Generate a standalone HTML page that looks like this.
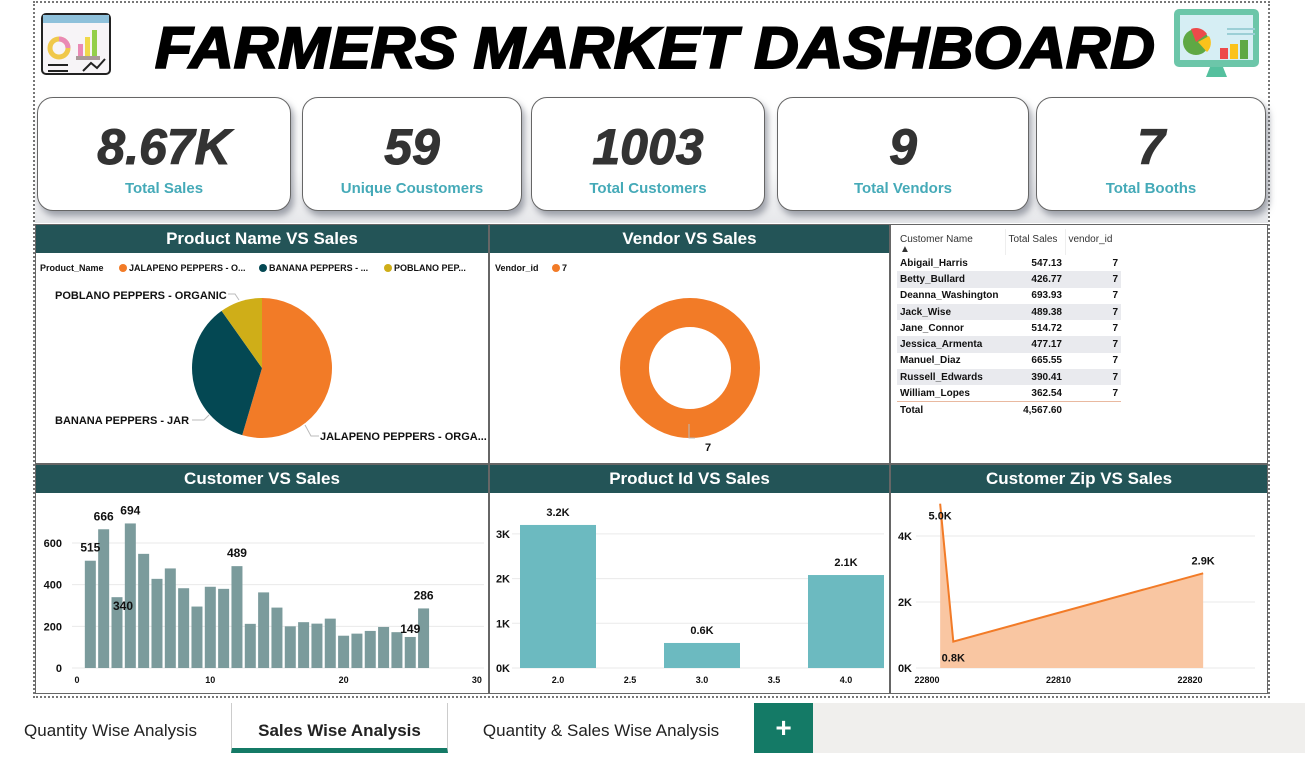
<!DOCTYPE html>
<html><head><meta charset="utf-8">
<style>
*{box-sizing:border-box;margin:0;padding:0}
body{width:1305px;height:753px;overflow:hidden;background:#fff;font-family:"Liberation Sans",sans-serif;position:relative}
.abs{position:absolute}
.frame{left:33px;top:1px;width:1237px;height:697px;border:2px dotted #777}
.title{left:155px;top:14px;white-space:nowrap;font-weight:bold;font-style:italic;font-size:58px;color:#000;line-height:70px;-webkit-text-stroke:2px #000;transform-origin:0 0}
.band{left:35px;top:90px;width:1233px;height:133px;background:linear-gradient(#fff,#fff 60%,#e6e7ea)}
.card{top:97px;height:114px;background:#fff;border:1px solid #666;border-radius:16px;box-shadow:3px 5px 7px rgba(90,95,110,.55);text-align:center}
.card .v{font-size:50px;font-weight:bold;font-style:italic;color:#333;margin-top:22px;line-height:54px;-webkit-text-stroke:1px #333}
.card .l{font-size:15px;font-weight:bold;color:#45aab8;margin-top:6px}
.panel{background:#fff;border:1px solid #666}
.hdr{background:#235457;color:#fff;font-weight:bold;font-size:17px;text-align:center;height:28px;line-height:28px}
table{border-collapse:collapse;font-size:10px}
td,th{padding:0 3px;height:16.3px;white-space:nowrap}
th{font-weight:normal;color:#333;text-align:left;vertical-align:top;height:24px;padding-top:6px;line-height:10px}
td{font-weight:bold;color:#111}
.tab{top:703px;height:50px;font-size:17px;color:#222;line-height:56px;text-align:center}
</style></head><body>
<div class="abs band"></div>
<div class="abs frame"></div>
<svg class="abs" style="left:41px;top:13px" width="70" height="62">
<rect x="1" y="1" width="68" height="60" rx="4" fill="#f7f4f7" stroke="#222" stroke-width="2"/>
<rect x="2" y="2" width="66" height="8" fill="#8fc1db"/>
<circle cx="18" cy="35" r="9" fill="none" stroke="#f0c84b" stroke-width="5"/>
<path d="M18 26 A9 9 0 0 1 27 35" fill="none" stroke="#ea89b5" stroke-width="5"/>
<rect x="37" y="31" width="5" height="12" fill="#ea89b5"/><rect x="44" y="24" width="5" height="19" fill="#f0d84b"/><rect x="51" y="17" width="5" height="26" fill="#94cf4a"/>
<rect x="35" y="43" width="24" height="4" fill="#a99"/>
<path d="M7 52h20M7 58h20M42 58l8-8 6 5 8-9" stroke="#222" stroke-width="2" fill="none"/>
</svg>
<div id="title" class="abs title">FARMERS MARKET DASHBOARD</div>
<svg class="abs" style="left:1174px;top:9px" width="86" height="69">
<rect x="0" y="0" width="85" height="58" rx="5" fill="#6cc6a9"/>
<rect x="6" y="6" width="73" height="45" fill="#d6eef4"/>
<circle cx="22" cy="33" r="13" fill="#5fa844"/><path d="M22 33 L17 20 A13 13 0 0 1 33 25Z" fill="#ed4a4a"/><path d="M24 33 L35 27 A13 13 0 0 1 33 43Z" fill="#fbc21b"/>
<rect x="46" y="39" width="8" height="11" fill="#ed4a4a"/><rect x="56" y="35" width="8" height="15" fill="#fbc21b"/><rect x="66" y="31" width="8" height="19" fill="#5fa844"/>
<path d="M53 20h28M53 25h28" stroke="#9ccfd6" stroke-width="2"/>
<path d="M36 58h13l4 10H32Z" fill="#55c09e"/>
</svg>

<div class="abs card" style="left:37px;width:254px"><div class="v">8.67K</div><div class="l">Total Sales</div></div>
<div class="abs card" style="left:302px;width:220px"><div class="v">59</div><div class="l">Unique Coustomers</div></div>
<div class="abs card" style="left:531px;width:234px"><div class="v">1003</div><div class="l">Total Customers</div></div>
<div class="abs card" style="left:777px;width:252px"><div class="v">9</div><div class="l">Total Vendors</div></div>
<div class="abs card" style="left:1036px;width:230px"><div class="v">7</div><div class="l">Total Booths</div></div>

<div class="abs panel" style="left:35px;top:224px;width:454px;height:240px"><div class="hdr">Product Name VS Sales</div></div>
<div class="abs panel" style="left:489px;top:224px;width:401px;height:240px"><div class="hdr">Vendor VS Sales</div></div>
<div class="abs panel" style="left:890px;top:224px;width:378px;height:240px">
<table style="margin:4px 0 0 6px">
<tr><th style="width:108px">Customer Name<br>▲</th><th style="width:60px;border-left:1px solid #eee">Total Sales</th><th style="border-left:1px solid #eee;width:56px">vendor_id</th></tr>
<tbody id="tb"></tbody>
<tr style="border-top:1px solid #e9b9a0"><td>Total</td><td style="text-align:right">4,567.60</td><td></td></tr>
</table></div>
<div class="abs panel" style="left:35px;top:464px;width:454px;height:230px"><div class="hdr">Customer VS Sales</div></div>
<div class="abs panel" style="left:489px;top:464px;width:401px;height:230px"><div class="hdr">Product Id VS Sales</div></div>
<div class="abs panel" style="left:890px;top:464px;width:378px;height:230px"><div class="hdr">Customer Zip VS Sales</div></div>

<svg id="ch" class="abs" style="left:0;top:0" width="1305" height="700" font-family="Liberation Sans, sans-serif"></svg>

<div class="abs" style="left:0;top:703px;width:1305px;height:50px;background:#fff"></div>
<div class="abs tab" style="left:0;width:221px">Quantity Wise Analysis</div>
<div class="abs tab" style="left:231px;width:217px;border-left:1px solid #ccc;border-right:1px solid #ccc;font-weight:bold;border-bottom:5px solid #147a66;line-height:56px">Sales Wise Analysis</div>
<div class="abs tab" style="left:448px;width:306px">Quantity &amp; Sales Wise Analysis</div>
<div class="abs tab" style="left:754px;width:59px;background:#147a66;color:#fff;font-size:28px;font-weight:bold;line-height:50px">+</div>
<div class="abs" style="left:813px;top:703px;width:492px;height:50px;background:#f0efed"></div>

<script>
const custNames=["Abigail_Harris","Betty_Bullard","Deanna_Washington","Jack_Wise","Jane_Connor","Jessica_Armenta","Manuel_Diaz","Russell_Edwards","William_Lopes"];
const custSales=[547.13,426.77,693.93,489.38,514.72,477.17,665.55,390.41,362.54];
const pieNames=["JALAPENO PEPPERS - ORGA...","BANANA PEPPERS - JAR","POBLANO PEPPERS - ORGANIC"];
const pieValues=[3230,2110,580];
const pieColors=["#f27b27","#044853","#cfae18"];
const vendorValues=[4567.6];
const barValues=[515,666,340,694,548,428,478,383,295,390,380,489,212,363,290,200,220,213,237,155,165,178,197,172,149,286];
const barLabelIdx=[0,1,2,3,11,24,25];
const barTicks=[0,10,20,30];
const barYTicks=[0,200,400,600];
const prodIds=[2,3,4];
const prodValues=[3200,560,2080];
const prodXTicks=["2.0","2.5","3.0","3.5","4.0"];
const prodYTicks=[0,1000,2000,3000];
const zips=[22801,22802,22821];
const zipValues=[4980,800,2870];
const zipXTicks=[22800,22810,22820];
const zipYTicks=[0,2000,4000];

const T=document.getElementById('title');
T.style.transform='scaleX('+(1000/T.offsetWidth)+')';

const tb=document.getElementById('tb');
custNames.forEach((n,i)=>{const tr=document.createElement('tr');


if(i%2)tr.style.background='#e9eaee';
tr.innerHTML='<td>'+n+'</td><td style="text-align:right">'+custSales[i].toFixed(2)+'</td><td style="text-align:right">7</td>';tb.appendChild(tr);});

const S=document.getElementById('ch');const NS='http://www.w3.org/2000/svg';
function el(t,a,txt){const e=document.createElementNS(NS,t);for(const k in a)e.setAttribute(k,a[k]);if(txt!==undefined)e.textContent=txt;S.appendChild(e);return e;}
function tx(x,y,s,o){return el('text',Object.assign({x:x,y:y,'font-size':11,'font-weight':'bold',fill:'#111'},o||{}),s);}

tx(40,271,'Product_Name',{'font-size':9});
const legX=[119,259,384];const legT=["JALAPENO PEPPERS - O...","BANANA PEPPERS - ...","POBLANO PEP..."];
legT.forEach((t,i)=>{const c=el('circle',{cx:legX[i]+4,cy:268,r:4,fill:pieColors[i]});


tx(legX[i]+10,271,t,{'font-size':9});});
const pcx=262,pcy=368,pr=70;const tot=pieValues.reduce((a,b)=>a+b,0);let ang=0;
pieValues.forEach((v,i)=>{const a0=ang,a1=ang+v/tot*2*Math.PI;ang=a1;
const p=(a)=>[pcx+pr*Math.sin(a),pcy-pr*Math.cos(a)];const[x0,y0]=p(a0),[x1,y1]=p(a1);
const s=el('path',{d:`M${pcx} ${pcy}L${x0} ${y0}A${pr} ${pr} 0 ${a1-a0>Math.PI?1:0} 1 ${x1} ${y1}Z`,fill:pieColors[i]});

});
el('path',{d:'M305 425l6 11h8M192 420h12l5-5M228 294h7l4 6',stroke:'#bbb',fill:'none'});
tx(320,440,pieNames[0]);
tx(55,424,pieNames[1]);tx(55,299,pieNames[2]);

tx(495,271,'Vendor_id',{'font-size':9});
el('circle',{cx:556,cy:268,r:4,fill:'#f27b27'});tx(562,271,'7',{'font-size':9});
const dr=55.5;const dn=el('circle',{cx:690,cy:368,r:dr,fill:'none',stroke:'#f27b27','stroke-width':29});


el('path',{d:'M689 424v14h6',stroke:'#bbb',fill:'none'});tx(705,451,'7');

const bx=v=>77+v*13.33, by=v=>668-v*0.2083;
barYTicks.forEach(t=>{el('line',{x1:72,x2:484,y1:by(t),y2:by(t),stroke:'#eaeaea'});tx(62,by(t)+4,t,{'text-anchor':'end'});});
barTicks.forEach(t=>tx(bx(t),683,t,{'text-anchor':'middle','font-size':9}));
barValues.forEach((v,i)=>{const r=el('rect',{x:bx(i+1)-5.5,y:by(v),width:11,height:by(0)-by(v),fill:'#7b9b9c'});

});
barLabelIdx.forEach(i=>tx(bx(i+1)+(i==2?6:0),by(barValues[i])-(i==2?-13:i==24?4:9),barValues[i],{'text-anchor':'middle','font-size':12}));

const px=v=>558+(v-2)*144, py=v=>668-v*0.0447;
prodYTicks.forEach(t=>{el('line',{x1:512,x2:884,y1:py(t),y2:py(t),stroke:'#eaeaea'});tx(510,py(t)+4,(t/1000)+'K',{'text-anchor':'end'});});
prodXTicks.forEach(t=>tx(px(+t),683,t,{'text-anchor':'middle','font-size':9}));
prodValues.forEach((v,i)=>{const x0=Math.max(px(prodIds[i])-38,513);const r=el('rect',{x:x0,y:py(v),width:px(prodIds[i])+38-x0,height:py(0)-py(v),fill:'#6cbac0'});


tx(px(prodIds[i]),py(v)-9,(v/1000).toFixed(1)+'K',{'text-anchor':'middle'});});

const zx=v=>927+(v-22800)*13.15, zy=v=>668-v*0.033;
zipYTicks.forEach(t=>{el('line',{x1:916,x2:1255,y1:zy(t),y2:zy(t),stroke:'#eaeaea'});tx(912,zy(t)+4,(t/1000)+'K',{'text-anchor':'end'});});
zipXTicks.forEach(t=>tx(zx(t),683,t,{'text-anchor':'middle','font-size':9}));
let pts=zips.map((z,i)=>zx(z)+','+zy(zipValues[i])).join(' ');
const ar=el('polygon',{points:zx(zips[0])+','+zy(0)+' '+pts+' '+zx(zips[zips.length-1])+','+zy(0),fill:'#f9c6a2'});


const ln=el('polyline',{points:pts,fill:'none',stroke:'#f27b27','stroke-width':2});


tx(zx(zips[0]),zy(zipValues[0])+16,(zipValues[0]/1000).toFixed(1)+'K',{'text-anchor':'middle'});
tx(zx(zips[1]),zy(zipValues[1])+20,(zipValues[1]/1000).toFixed(1)+'K',{'text-anchor':'middle'});
tx(zx(zips[2]),zy(zipValues[2])-9,(zipValues[2]/1000).toFixed(1)+'K',{'text-anchor':'middle'});
</script>
</body></html>
